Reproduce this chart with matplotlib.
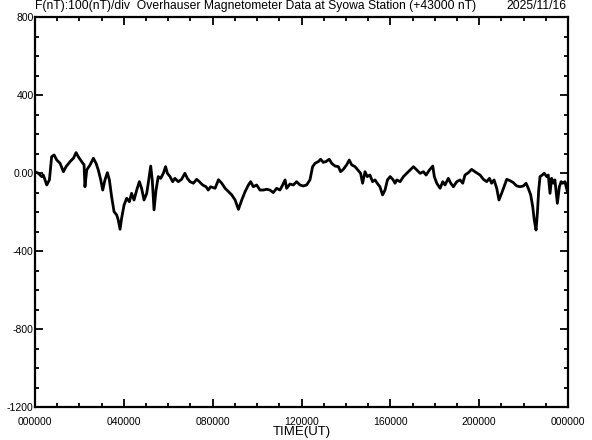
import matplotlib
matplotlib.use("Agg")
import matplotlib.pyplot as plt
from matplotlib.ticker import FixedLocator, MultipleLocator

# time in hours (UT), F deviation from 43000 nT
hours = [
    0.00, 0.15, 0.30, 0.375, 0.53, 0.65, 0.75, 0.86, 0.98, 1.13, 1.28, 1.40,
    1.58, 1.73, 1.85, 1.95, 2.10, 2.21, 2.25, 2.33, 2.48, 2.63, 2.75, 2.85,
    2.96, 3.05, 3.15, 3.26, 3.35, 3.45, 3.56, 3.68, 3.75, 3.83, 3.90,
    4.01, 4.13, 4.25, 4.35, 4.46, 4.58, 4.70, 4.80, 4.91, 5.03, 5.10, 5.21,
    5.28, 5.36, 5.45, 5.55, 5.66, 5.78, 5.88, 5.96, 6.08, 6.20, 6.30, 6.45,
    6.60, 6.75, 6.86, 6.98, 7.13, 7.28, 7.40, 7.55, 7.70, 7.80, 7.91, 8.11,
    8.26, 8.41, 8.56, 8.71, 8.86, 9.01, 9.16, 9.31, 9.46, 9.61, 9.71, 9.83,
    9.98, 10.13, 10.28, 10.43, 10.58, 10.73, 10.88, 11.03, 11.15, 11.26,
    11.33, 11.48, 11.63, 11.78, 11.93, 12.08,
    12.23, 12.38, 12.50, 12.61, 12.76, 12.86, 12.98, 13.10, 13.25, 13.36,
    13.51, 13.66, 13.76, 13.88, 14.03, 14.15, 14.26, 14.41, 14.56, 14.66,
    14.75, 14.86, 14.96, 15.08, 15.20, 15.31, 15.41, 15.53, 15.65, 15.76,
    15.87, 15.99, 16.11, 16.21,
    16.29, 16.44, 16.59, 16.74, 16.89, 17.04, 17.19, 17.34, 17.49, 17.61,
    17.76, 17.91, 17.98, 18.09, 18.24, 18.36, 18.46, 18.61, 18.72, 18.84,
    18.99, 19.14, 19.26, 19.36, 19.51, 19.66, 19.81, 19.92, 20.04, 20.19,
    20.34, 20.46, 20.56, 20.67, 20.79, 20.89, 21.01, 21.12, 21.24, 21.39,
    21.54, 21.69, 21.84, 21.99, 22.11, 22.21, 22.32, 22.41, 22.48, 22.56,
    22.62, 22.68, 22.74, 22.84, 22.93, 23.04, 23.11, 23.19, 23.26, 23.34,
    23.41, 23.52, 23.61, 23.69, 23.76, 23.86, 23.97, 24.00,
]
f_nt = [
    9, 1, -16, -8, -59, -33, 86, 95, 69, 52, 9, 35,
    61, 78, 107, 86, 61, 44, -68, 18, 44, 78, 52, 18,
    -33, -85, -33, 4, -33, -119, -196, -213, -239, -286, -230,
    -162, -127, -145, -102, -136, -85, -42, -76, -136, -102, -50, 38,
    -33, -187, -85, -16, -25, 1, 35, 1, -16, -42, -25, -42,
    -30, 1, -25, -42, -50, -30, -42, -59, -68, -85, -68, -76,
    -32, -50, -76, -93, -110, -136, -184, -136, -93, -59, -42, -68,
    -59, -85, -85, -81, -85, -98, -76, -85, -59, -33,
    -76, -54, -59, -42, -59, -64,
    -59, -33, 35, 52, 61, 73, 57, 61, 73, 52,
    38, 35, 9, 21, 44, 69, 44, 35, 15, 1,
    -50, 9, -16, -8, -42, -33, -50, -68, -110, -85,
    -33, -16, -30, -50,
    -33, -42, -16, 1, 18, 35, 18, 1, 9, -8,
    18, 38, -16, -50, -76, -42, -59, -25, -50, -68,
    -42, -33, -50, -8, 4, 21, 9, 1, -8, -30,
    -42, -25, -50, -33, -76, -136, -102, -68, -30, -37,
    -47, -64, -68, -64, -50, -76, -110, -170, -239, -290,
    -204, -85, -16, -8, 1, -16, -8, -102, -25, -50,
    -33, -153, -68, -42, -50, -42, -93, -50,
]

x_ticks = [0, 4, 8, 12, 16, 20, 24]
x_labels = ["000000", "040000", "080000", "120000", "160000", "200000", "000000"]
y_ticks = [-1200, -800, -400, 0, 400, 800]
y_labels = ["-1200", "-800", "-400", "0.00", "400", "800"]

plt.rcParams['font.family'] = ['Liberation Sans', 'DejaVu Sans']

fig = plt.figure(figsize=(5.92, 4.40), dpi=100)
ax = fig.add_axes([0.0591, 0.0739, 0.9004, 0.8864])

ax.plot(hours, f_nt, color='black', lw=2.0)

ax.set_xlim(0, 24)
ax.set_ylim(-1200, 800)

ax.xaxis.set_major_locator(FixedLocator(x_ticks))
ax.xaxis.set_minor_locator(MultipleLocator(1))
ax.set_xticklabels(x_labels, fontsize=7.5)
ax.yaxis.set_major_locator(FixedLocator(y_ticks))
ax.yaxis.set_minor_locator(MultipleLocator(100))
ax.set_yticklabels(y_labels, fontsize=7.5)

ax.tick_params(which='both', direction='in', top=True, right=True, width=1.3)
ax.tick_params(which='major', length=6)
ax.tick_params(which='minor', length=3)
ax.tick_params(axis='x', pad=7)
ax.tick_params(axis='y', pad=1)
for s in ax.spines.values():
    s.set_linewidth(1.6)

ax.set_xlabel("TIME(UT)", fontsize=9.5, labelpad=-1)

fig.text(0.0591, 0.972, "F(nT):100(nT)/div  Overhauser Magnetometer Data at Syowa Station (+43000 nT)",
         fontsize=8.7, ha='left', va='bottom')
fig.text(0.957, 0.972, "2025/11/16", fontsize=8.7, ha='right', va='bottom')

fig.savefig("out.png", dpi=100)
